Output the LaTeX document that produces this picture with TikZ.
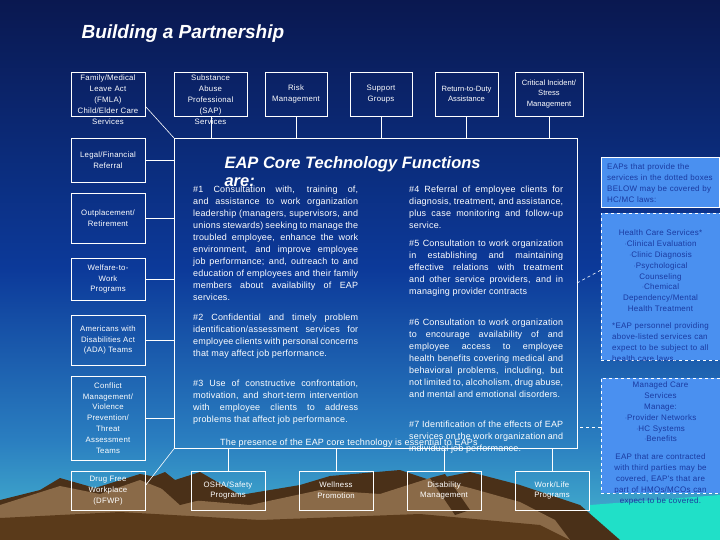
\documentclass[tikz,border=0pt]{standalone}
\usepackage{fontspec}
\setmainfont{Liberation Sans}
\newfontfamily\spaced[LetterSpace=2]{Liberation Sans}
\newfontfamily\wide[LetterSpace=3]{Liberation Sans}
\usetikzlibrary{calc}
\definecolor{navy}{HTML}{0A1850}
\definecolor{midb}{HTML}{0C3A9A}
\definecolor{lowb}{HTML}{2A7EC0}
\definecolor{cyanb}{HTML}{48B8D0}
\definecolor{mtn}{HTML}{8A6A48}
\definecolor{mtnd}{HTML}{4A3018}
\definecolor{ground}{HTML}{5A3A1A}
\definecolor{teal}{HTML}{20E0C8}
\definecolor{rbox}{HTML}{4A90F0}
\definecolor{rtext}{HTML}{1A3AA0}
\begin{document}
\begin{tikzpicture}[x=1pt,y=-1pt,
  sbox/.style={draw=white,line width=0.8pt,align=center,text=white,font=\wide\fontsize{7.8}{10.8}\selectfont,inner sep=1pt},
  stext/.style={align=center,text=white,font=\wide\fontsize{7.8}{10.8}\selectfont,inner sep=1pt},
  conn/.style={draw=white,line width=0.6pt},
  para/.style={anchor=north west,text=white,text width=#1,align=justify,font=\spaced\fontsize{9}{12}\selectfont,inner sep=0pt,
    execute at begin node={\hyphenpenalty=10000\relax\exhyphenpenalty=10000\relax}},
  rb/.style={text=rtext,align=center,font=\wide\fontsize{8}{10.8}\selectfont,inner sep=1pt,
    execute at begin node={\hyphenpenalty=10000\relax}},
  dbox/.style={draw=white,dashed,line width=0.8pt,fill=rbox}]
\useasboundingbox (0,0) rectangle (720,540);
% background
\fill[top color=navy,bottom color=midb] (0,0) rectangle (720,270);
\fill[top color=midb,bottom color=lowb] (0,270) -- (720,270) -- (720,440) -- (0,440) -- cycle;
\fill[top color=lowb,bottom color=cyanb] (0,440) rectangle (720,540);
\fill[teal] (590,505) -- (720,495) -- (720,540) -- (590,540) -- cycle;
% mountains
\fill[mtnd] (0,500) -- (40,490) -- (60,478) -- (95,488) -- (140,474) -- (175,480) -- (200,472) -- (240,495) -- (300,485) -- (330,476) -- (400,470) -- (430,480) -- (470,472) -- (520,485) -- (580,505) -- (620,540) -- (0,540) -- cycle;
\fill[mtn] (0,505) -- (60,486) -- (100,494) -- (140,480) -- (190,500) -- (250,505) -- (320,490) -- (380,494) -- (430,478) -- (470,488) -- (520,502) -- (555,520) -- (570,540) -- (0,540) -- cycle;
\fill[mtnd] (150,478) -- (165,472) -- (200,500) -- (180,505) -- cycle;
\fill[mtnd] (430,478) -- (445,474) -- (470,510) -- (455,515) -- cycle;
\fill[ground] (0,518) -- (120,512) -- (260,520) -- (420,514) -- (540,525) -- (570,540) -- (0,540) -- cycle;
% title
\node[anchor=west,text=white,font=\bfseries\itshape\fontsize{19}{22}\selectfont] (title) at (78,34) {Building a Partnership};
% central box
\node[draw=white,line width=0.8pt,minimum width=403,minimum height=310,anchor=north west,inner sep=0pt] (core) at (174,138) {};
\node[anchor=west,text=white,font=\bfseries\itshape\fontsize{16.5}{18}\selectfont] (ctitle) at (221,164) {EAP Core Technology Functions};
\node[anchor=west,text=white,font=\bfseries\itshape\fontsize{16.5}{18}\selectfont] (ctitle2) at (221,182) {are:};
\node[para=165] (p1) at (193,186) {\#1 Consultation with, training of, and assistance to work organization leadership (managers, supervisors, and unions stewards) seeking to manage the troubled employee, enhance the work environment, and improve employee job performance; and, outreach to and education of employees and their family members about availability of EAP services.};
\node[para=165] (p2) at (193,314) {\#2 Confidential and timely problem identification/assessment services for employee clients with personal concerns that may affect job performance.};
\node[para=165] (p3) at (193,380) {\#3 Use of constructive confrontation, motivation, and short-term intervention with employee clients to address problems that affect job performance.};
\node[para=154] (p4) at (409,186) {\#4 Referral of employee clients for diagnosis, treatment, and assistance, plus case monitoring and follow-up service.};
\node[para=154] (p5) at (409,240) {\#5 Consultation to work organization in establishing and maintaining effective relations with treatment and other service providers, and in managing provider contracts};
\node[para=154] (p6) at (409,319) {\#6 Consultation to work organization to encourage availability of and employee access to employee health benefits covering medical and behavioral problems, including, but not limited to, alcoholism, drug abuse, and mental and emotional disorders.};
\node[para=154] (p7) at (409,421) {\#7 Identification of the effects of EAP services on the work organization and individual job performance.};
\node[anchor=west,text=white,font=\spaced\fontsize{9}{12}\selectfont,inner sep=0pt] (pres) at (220,443) {The presence of the EAP core technology is essential to EAPs};
% top boxes
\node[sbox,minimum width=74,minimum height=44,anchor=north west] (fmla) at (71,72) {};
\node[stext,anchor=north,text width=76] (fmlat) at (108,74) {Family/Medical\\Leave Act\\(FMLA)\\Child/Elder Care\\Services};
\node[sbox,minimum width=73,minimum height=44,anchor=north west] (sap) at (174,72) {};
\node[stext,anchor=north,text width=73] (sapt) at (210.5,74) {Substance\\Abuse\\Professional\\(SAP)\\Services};
\node[sbox,minimum width=62,minimum height=44] (risk) at (296,94) {Risk\\Management};
\node[sbox,minimum width=62,minimum height=44] (supp) at (381,94) {Support\\Groups};
\node[sbox,minimum width=63,minimum height=44,font=\fontsize{7.6}{10.8}\selectfont] (ret) at (466.5,94) {Return-to-Duty\\Assistance};
\node[sbox,minimum width=68,minimum height=44,font=\fontsize{7.6}{10.8}\selectfont] (crit) at (549,94) {Critical Incident/\\Stress\\Management};
% left boxes
\node[sbox,minimum width=74,minimum height=44] (legal) at (108,160) {Legal/Financial\\Referral};
\node[sbox,minimum width=74,minimum height=50] (outp) at (108,218) {Outplacement/\\Retirement};
\node[sbox,minimum width=74,minimum height=42] (welf) at (108,279) {Welfare-to-\\Work\\Programs};
\node[sbox,minimum width=74,minimum height=50] (ada) at (108,340) {Americans with\\Disabilities Act\\(ADA) Teams};
\node[sbox,minimum width=74,minimum height=84] (conf) at (108,418) {Conflict\\Management/\\Violence\\Prevention/\\Threat\\Assessment\\Teams};
\node[sbox,minimum width=74,minimum height=39] (dfwp) at (108,490.5) {Drug Free\\Workplace\\(DFWP)};
% bottom boxes
\node[sbox,minimum width=74,minimum height=39] (osha) at (228,490.5) {OSHA/Safety\\Programs};
\node[sbox,minimum width=74,minimum height=39] (well) at (336,490.5) {Wellness\\Promotion};
\node[sbox,minimum width=74,minimum height=39] (dis) at (444,490.5) {Disability\\Management};
\node[sbox,minimum width=74,minimum height=39] (wl) at (552,490.5) {Work/Life\\Programs};
% connectors
\draw[conn] (fmla.south east) ++(0,-10) -- (core.north west);
\draw[conn] (sap.south) -- (sap.south |- core.north);
\draw[conn] (risk.south) -- (risk.south |- core.north);
\draw[conn] (supp.south) -- (supp.south |- core.north);
\draw[conn] (ret.south) -- (ret.south |- core.north);
\draw[conn] (crit.south) -- (crit.south |- core.north);
\foreach \n in {legal,outp,welf,ada,conf} \draw[conn] (\n.east) -- (\n.east -| core.west);
\draw[conn] (dfwp.east) ++(0,-5) -- (core.south west);
\foreach \n in {osha,well,dis,wl} \draw[conn] (\n.north) -- (\n.north |- core.south);
% right side
\node[fill=rbox,draw=white,line width=0.5pt,minimum width=118,minimum height=50,anchor=north west,inner sep=0pt] (rtop) at (601,157) {};
\node[rb,anchor=north west,text width=112,align=left] (rtopt) at (606,163) {EAPs that provide the services in the dotted boxes BELOW may be covered by HC/MC laws:};
\node[dbox,minimum width=119,minimum height=147,anchor=north west,inner sep=0pt] (hc) at (601,213) {};
\node[rb,anchor=north,text width=118] (hct) at (660.5,229) {Health Care Services*\\$\cdot$Clinical Evaluation\\$\cdot$Clinic Diagnosis\\$\cdot$Psychological\\Counseling\\$\cdot$Chemical\\Dependency/Mental\\Health Treatment};
\node[rb,anchor=north west,text width=100,align=left] (hcn) at (611,322) {*EAP personnel providing above-listed services can expect to be subject to all health care laws.};
\node[dbox,minimum width=119,minimum height=115,anchor=north west,inner sep=0pt] (mc) at (601,378) {};
\node[rb,anchor=north,text width=118] (mct) at (660.5,381) {Managed Care\\Services\\Manage:\\$\cdot$Provider Networks\\$\cdot$HC Systems\\$\cdot$Benefits};
\node[rb,anchor=north,text width=112] (mcn) at (660.5,453) {EAP that are contracted with third parties may be covered, EAP's that are part of HMOs/MCOs can expect to be covered.};
\coordinate (dA) at (577,283);
\draw[conn,dashed] (dA) -- (601,270);
\draw[conn,dashed] (mc.west |- 0,427) -- (core.east |- 0,427);
\end{tikzpicture}
\end{document}
